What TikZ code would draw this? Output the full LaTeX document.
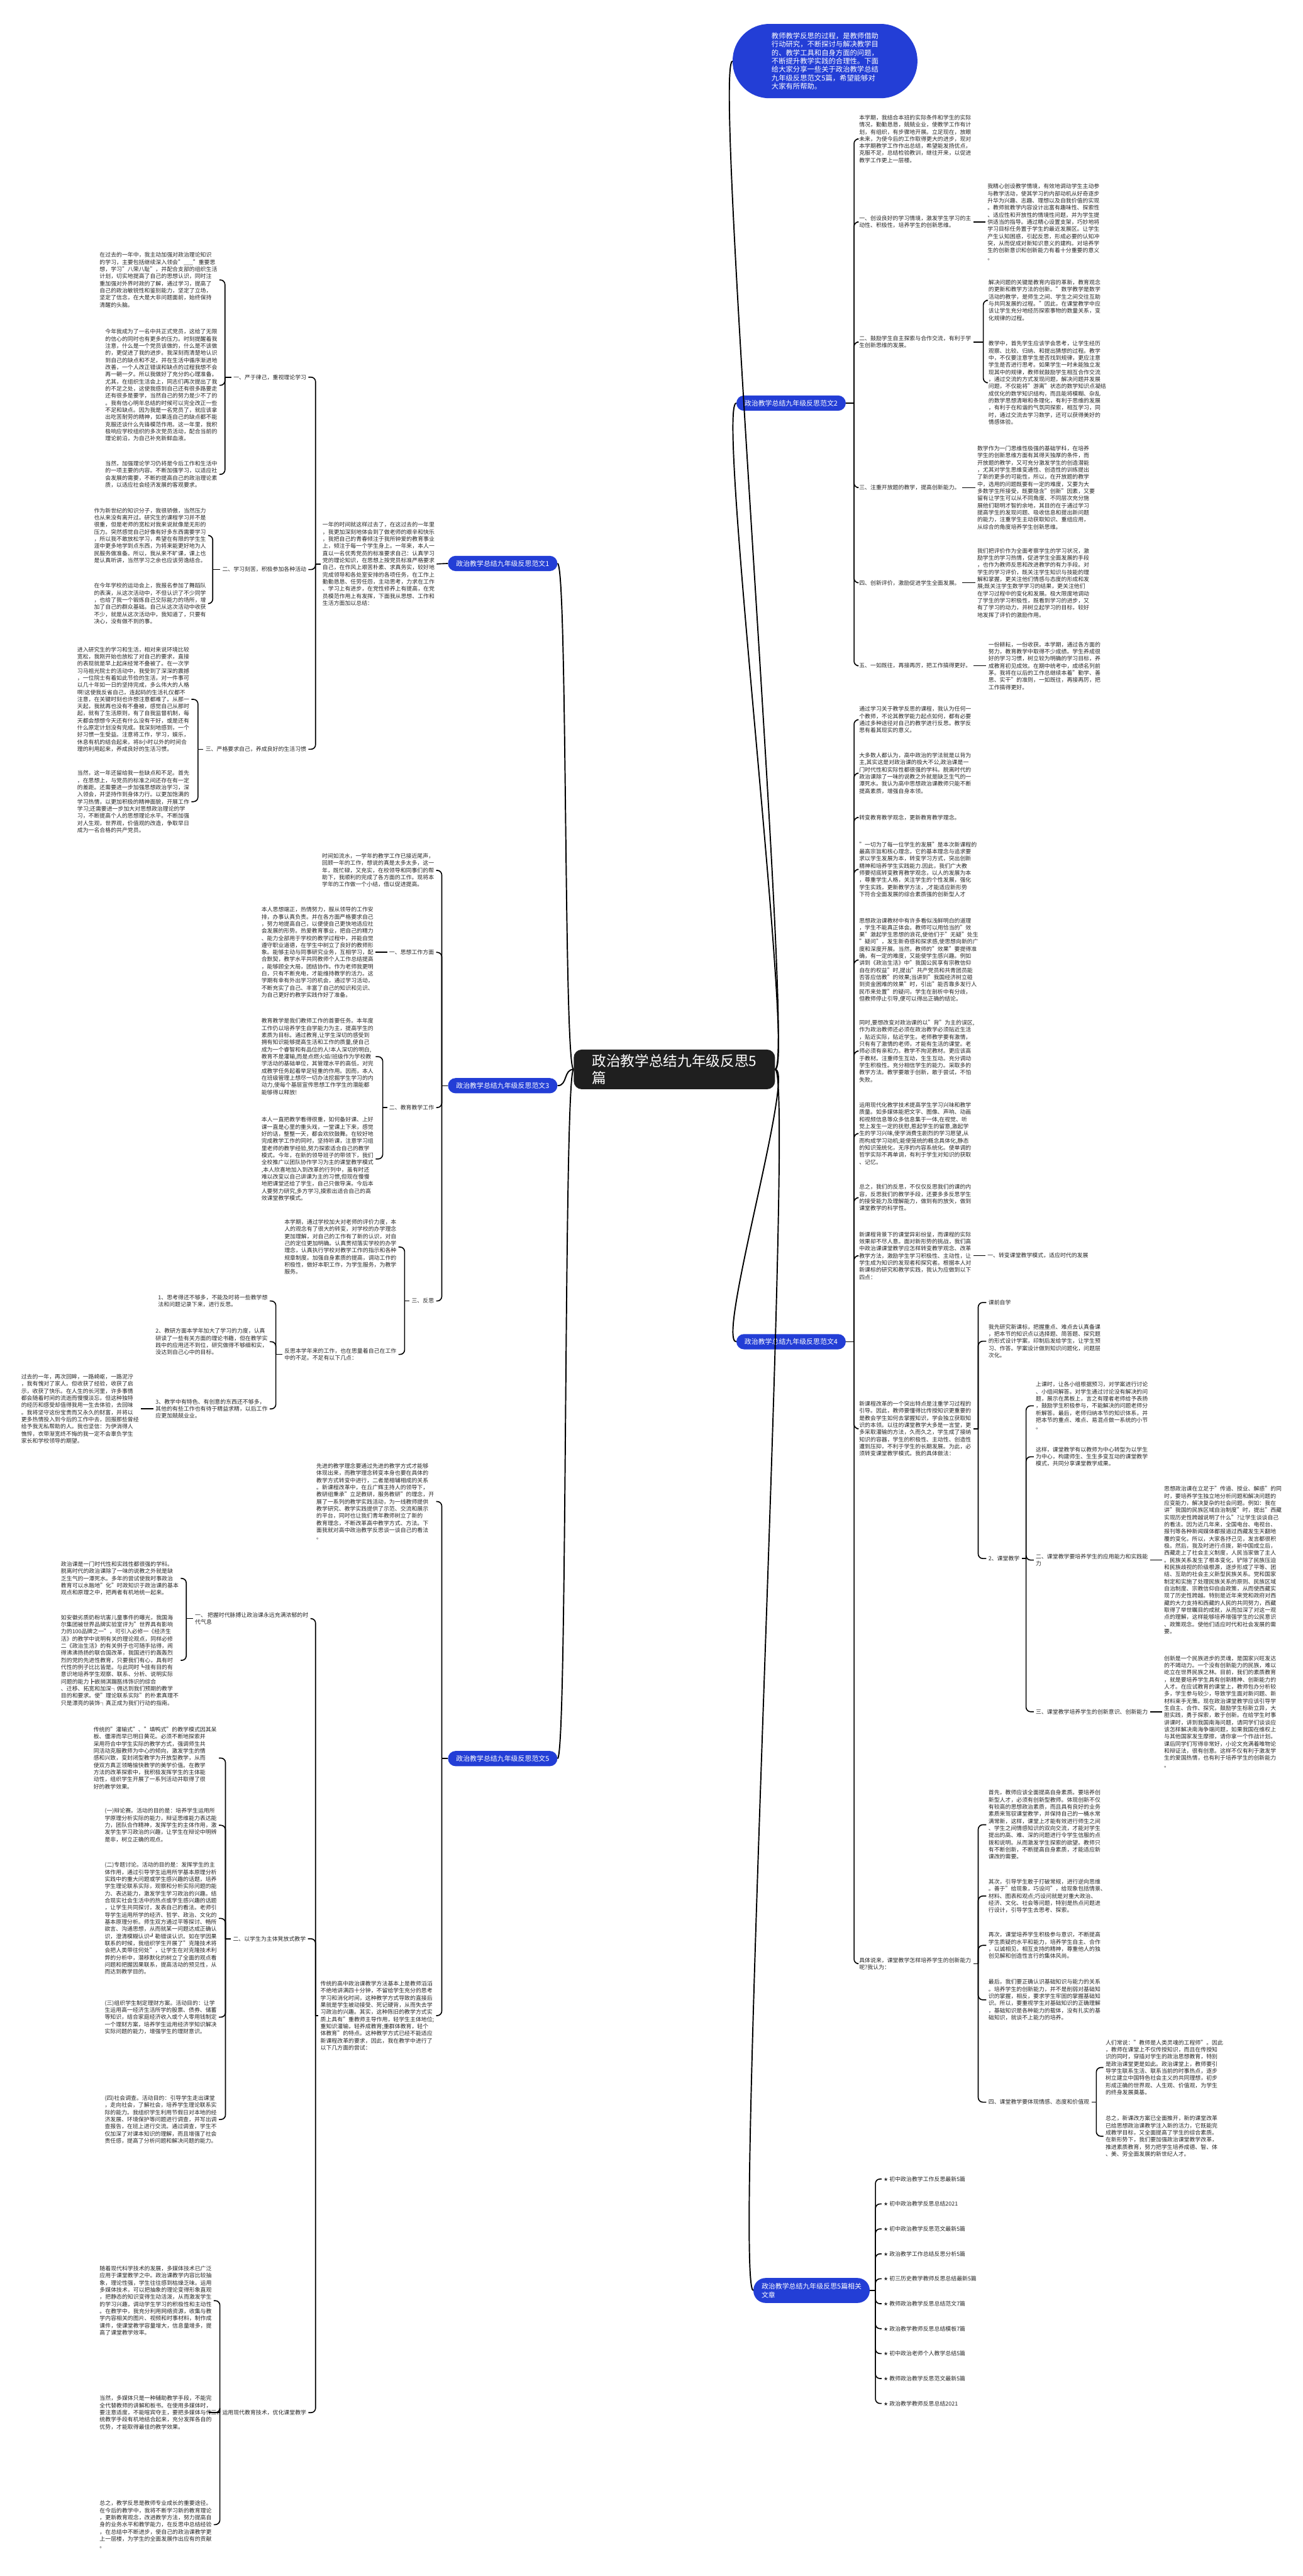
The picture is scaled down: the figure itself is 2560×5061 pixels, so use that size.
\documentclass[tikz,border=0pt]{standalone}
\usepackage{fontspec}
\setmainfont{Noto Sans CJK SC}
\newfontfamily\symf{DejaVu Sans}
\usetikzlibrary{calc}
\definecolor{bblue}{RGB}{35,62,214}
\definecolor{tx}{RGB}{38,38,38}
\tikzset{
  t/.style={font=\fontsize{11}{14}\selectfont, align=left, inner xsep=4pt, inner ysep=1pt, text=tx},
  bn/.style={fill=bblue, text=white, font=\fontsize{13.5}{17}\selectfont, rounded corners=15pt, minimum height=30pt, inner xsep=16pt, inner ysep=2pt, align=left},
  ln/.style={line width=2pt, draw=black, rounded corners=9pt},
  cv/.style={line width=2.4pt, draw=black},
}
\newcommand\RB[3]{%
  \draw[ln] let \p1=(#1.east), \p2=(#2,0) in (\p1) -- (\x2,\y1) coordinate (jn);
  \foreach \c in {#3}{\draw[ln] (jn) |- (\c.west);}}
\newcommand\LB[3]{%
  \draw[ln] let \p1=(#1.west), \p2=(#2,0) in (\p1) -- (\x2,\y1) coordinate (jn);
  \foreach \c in {#3}{\draw[ln] (jn) |- (\c.east);}}
\newcommand\RL[2]{\draw[ln] (#1.east) -- (#2.west);}
\newcommand\LL[2]{\draw[ln] (#1.west) -- (#2.east);}
\begin{document}
\begin{tikzpicture}[x=1pt,y=-1pt]
\useasboundingbox (0,0) rectangle (2560,5061);
\fill[white] (0,0) rectangle (2560,5061);

% ---------- center ----------
\node[fill=black!88, text=white, rounded corners=16pt, font=\fontsize{28}{34}\selectfont, align=left, inner xsep=36pt, inner ysep=9pt] (c) at (1325,2101) {政治教学总结九年级反思5\\篇};

% ---------- intro ----------
\node[fill=bblue, text=white, rounded corners=72pt, minimum width=363pt, minimum height=146pt, font=\fontsize{14}{16.4}\selectfont, align=left, inner sep=0pt] (intro) at (1621,120) {教师教学反思的过程，是教师借助\\行动研究，不断探讨与解决教学目\\的、教学工具和自身方面的问题，\\不断提升教学实践的合理性。下面\\给大家分享一些关于政治教学总结\\九年级反思范文5篇，希望能够对\\大家有所帮助。};

% ---------- branch 2 ----------
\node[bn,anchor=east] (b2) at (1662,792) {政治教学总结九年级反思范文2};
\node[t,anchor=west] (r20) at (1684,273) {本学期，我结合本班的实际条件和学生的实际\\情况，勤勤恳恳，兢兢业业，使教学工作有计\\划，有组织，有步骤地开展。立足现在，放眼\\未来，为使今后的工作取得更大的进步，现对\\本学期教学工作作出总结，希望能发扬优点，\\克服不足，总结检验教训，继往开来，以促进\\教学工作更上一层楼。};
\node[t,anchor=west] (r21) at (1684,436) {一、创设良好的学习情境，激发学生学习的主\\动性、积极性，培养学生的创新思维。};
\node[t,anchor=west] (r21a) at (1936,436) {我精心创设教学情境，有效地调动学生主动参\\与教学活动，使其学习的内部动机从好奇逐步\\升华为兴趣、志趣、理想以及自我价值的实现\\。教师就教学内容设计出富有趣味性、探索性\\、适应性和开放性的情境性问题，并为学生提\\供适当的指导。通过精心设置支架，巧妙地将\\学习目标任务置于学生的最近发展区。让学生\\产生认知困惑，引起反思，形成必要的认知冲\\突，从而促成对新知识意义的建构。对培养学\\生的创新意识和创新能力有着十分重要的意义\\。};
\node[t,anchor=west] (r22) at (1684,672) {二、鼓励学生自主探索与合作交流，有利于学\\生创新思维的发展。};
\node[t,anchor=west] (r22a) at (1938,590) {解决问题的关键是教育内容的革新，教育观念\\的更新和教学方法的创新。"数学教学是数学\\活动的教学，是师生之间、学生之间交往互助\\与共同发展的过程。"因此，在课堂教学中应\\该让学生充分地经历探索事物的数量关系，变\\化规律的过程。};
\node[t,anchor=west] (r22b) at (1938,752) {教学中，首先学生应该学会思考，让学生经历\\观察、比较、归纳、和提出猜想的过程。教学\\中，不仅要注意学生是否找到规律，更应注意\\学生是否进行思考。如果学生一时未能独立发\\现其中的规律，教师就鼓励学生相互合作交流\\，通过交流的方式发现问题，解决问题并发展\\问题，不仅能将"游离"状态的数学知识点凝结\\成优化的数学知识结构，而且能将模糊、杂乱\\的数学思想清晰和条理化，有利于思维的发展\\，有利于在和谐的气氛同探索，相互学习，同\\时，通过交流去学习数学，还可以获得美好的\\情感体验。};
\node[t,anchor=west] (r23) at (1684,958) {三、注重开放题的教学，提高创新能力。};
\node[t,anchor=west] (r23a) at (1916,958) {数学作为一门思维性极强的基础学科，在培养\\学生的创新思维方面有其得天独厚的条件，而\\开放题的教学，又可充分激发学生的创造潜能\\，尤其对学生思维变通性、创造性的训练提出\\了新的更多的可能性，所以，在开放题的教学\\中，选用的问题既要有一定的难度，又要为大\\多数学生所接受，既要隐含"创新"因素，又要\\留有让学生可以从不同角度、不同层次充分施\\展他们聪明才智的余地，其目的在于通过学习\\提高学生的发现问题、吸收信息和提出新问题\\的能力，注重学生主动获取知识、重组应用，\\从综合的角度培养学生创新思维。};
\node[t,anchor=west] (r24) at (1684,1145) {四、创新评价，激励促进学生全面发展。};
\node[t,anchor=west] (r24a) at (1916,1145) {我们把评价作为全面考察学生的学习状况，激\\励学生的学习热情，促进学生全面发展的手段\\，也作为教师反思和改进教学的有力手段。对\\学生的学习评价，既关注学生知识与技能的理\\解和掌握，更关注他们情感与态度的形成和发\\展;既关注学生数学学习的结果，更关注他们\\在学习过程中的变化和发展。极大限度地调动\\了学生的学习积极性，既看到学习的进步，又\\有了学习的动力，并树立起学习的目标，较好\\地发挥了评价的激励作用。};
\node[t,anchor=west] (r25) at (1684,1308) {五、一如既往，再接再厉，把工作搞得更好。};
\node[t,anchor=west] (r25a) at (1938,1308) {一份耕耘，一份收获。本学期，通过各方面的\\努力，教育教学中取得不少成绩。学生养成很\\好的学习习惯，树立较为明确的学习目标，养\\成教育初见成效。在期中统考中，成绩名列前\\茅。我将在以后的工作总继续本着"勤学、善\\思、实干"的准则，一如既往，再接再厉，把\\工作搞得更好。};
\RB{b2}{1678}{r20,r21,r22,r23,r24,r25}
\RL{r21}{r21a}\RB{r22}{1932}{r22a,r22b}\RL{r23}{r23a}\RL{r24}{r24a}\RL{r25}{r25a}

% ---------- branch 4 ----------
\node[bn,anchor=east] (b4) at (1662,2636) {政治教学总结九年级反思范文4};
\node[t,anchor=west] (r41) at (1684,1414) {通过学习关于教学反思的课程，我认为任何一\\个教师，不论其教学能力起点如何，都有必要\\通过多种途径对自己的教学进行反思。教学反\\思有着其现实的意义。};
\node[t,anchor=west] (r42) at (1684,1519) {大多数人都认为，高中政治的学法就是以背为\\主,其实这是对政治课的极大不公,政治课是一\\门时代性和实际性都很强的学科。脱离时代的\\政治课除了一味的说教之外就是缺乏生气的一\\潭死水。我认为高中思想政治课教师只能不断\\提高素质，增强自身本领。};
\node[t,anchor=west] (r43) at (1684,1606) {转变教育教学观念，更新教育教学理念。};
\node[t,anchor=west] (r44) at (1684,1708) {"一切为了每一位学生的发展"是本次新课程的\\最高宗旨和核心理念，它的基本理念与追求要\\求以学生发展为本，转变学习方式，突出创新\\精神和培养学生实践能力.因此，我们广大教\\师要彻底转变教育教学观念，以人的发展为本\\，尊重学生人格，关注学生的个性发展，强化\\学生实践，更新教学方法，,才能适应新形势\\下符合全面发展的综合素质强的创新型人才};
\node[t,anchor=west] (r45) at (1684,1886) {思想政治课教材中有许多看似浅鲜明白的道理\\，学生不能真正体会。教师可以用恰当的"效\\果"激起学生思想的浪花,使他们于"无疑"处生\\"疑问"，发生新奇感和探求感,使思想向新的广\\度和深度开展。当然，教师的"效果"要提得准\\确，有一定的难度，又能使学生感兴趣。例如\\讲到《政治生活》中"我国公民享有宗教信仰\\自在的权益"时,提出"共产党员和共青团员能\\否答应信教"的效果;当讲到"我国经济树立碰\\到资金困难的效果"时，引出"能否靠多发行人\\民币来处置"的疑问，学生在剖析中有分歧，\\但教师停止引导,便可以得出正确的结论。};
\node[t,anchor=west] (r46) at (1684,2065) {同时,要想改变对政治课的以"背"为主的误区,\\作为政治教师还必须在政治教学必须贴近生活\\，贴近实际，贴近学生。老师教学要有激情，\\只有有了激情的老师，才能有生活的课堂。老\\师必须有亲和力。教学不拘泥教材。更应该高\\于教材。注重师生互动，生生互动。充分调动\\学生积极性。充分相信学生的能力。采取多的\\教学方法。教学要敢于创新，敢于尝试，不怕\\失败。};
\node[t,anchor=west] (r47) at (1684,2227) {运用现代化教学技术提高学生学习兴味和教学\\质量。如多媒体能把文字、图像、声响、动画\\和视频信息等众多信息集于一体,在视觉、听\\觉上发生一定的抚慰,惹起学生的留意,激起学\\生的学习兴味,使学消费生剧烈的学习愿望,从\\而构成学习动机;能使笼统的概念具体化,静态\\的知识笼统化，无序的内容系统化。使单调的\\哲学实际不再单调，有利于学生对知识的获取\\、记忆。};
\node[t,anchor=west] (r48) at (1684,2353) {总之，我们的反思，不仅仅反思我们的课的内\\容，反思我们的教学手段，还要多多反思学生\\的接受能力及理解能力，做到有的放矢，做到\\课堂教学的科学性。};
\node[t,anchor=west] (r49) at (1684,2467) {新课程背景下的课堂异彩纷呈，而课程的实际\\效果却不尽人意。面对新形势的挑战，我们高\\中政治课课堂教学应怎样转变教学观念、改革\\教学方法，激励学生学习积极性、主动性，让\\学生成为知识的发现者和探究者。根据本人对\\新课标的研究和教学实践，我认为应做到以下\\四点：};
\node[t,anchor=west] (r49a) at (1936,2467) {一、转变课堂教学模式，适应时代的发展};
\node[t,anchor=west] (r410) at (1684,2807) {新课程改革的一个突出特点是注重学习过程的\\引导。因此，教师要懂得比传授知识更重要的\\是教会学生如何去掌握知识，学会独立获取知\\识的本领。以往的课堂教学大多是一言堂，更\\多采取灌输的方法，久而久之，学生成了接纳\\知识的容器，学生的积极性、主动性、创造性\\遭到压抑，不利于学生的长期发展。为此，必\\须转变课堂教学模式。我的具体做法：};
\node[t,anchor=west] (r410a) at (1938,2559) {课前自学};
\node[t,anchor=west] (r410b) at (1938,2635) {我先研究新课标，把握重点、难点去认真备课\\，把本节的知识点以选择题、简答题、探究题\\的形式设计学案，印制后发给学生，让学生预\\习、作答。学案设计做到知识问题化，问题层\\次化。};
\node[t,anchor=west] (r410c) at (1938,3062) {2、课堂教学};
\node[t,anchor=west] (r410c1) at (2031,2762) {上课时，让各小组根据预习，对学案进行讨论\\、小组间解答。对学生通过讨论没有解决的问\\题，展示在黑板上，言之有理者老师给予表扬\\，鼓励学生积极参与，不能解决的问题老师分\\析解答。最后，老师归纳本节的知识体系，并\\把本节的重点、难点、易混点做一系统的小节\\。};
\node[t,anchor=west] (r410c2) at (2031,2862) {这样，课堂教学有以教师为中心转型为以学生\\为中心，构建师生、生生多变互动的课堂教学\\模式，共同分享课堂教学成果。};
\node[t,anchor=west] (r410c3) at (2031,3065) {二、课堂教学要培养学生的应用能力和实践能\\力};
\node[t,anchor=west] (r410c3a) at (2283,3065) {思想政治课在立足于"传道、授业、解惑"的同\\时，要培养学生独立地分析问题和解决问题的\\应变能力，解决复杂的社会问题。例如：我在\\讲"我国的民族区域自治制度"时，提出"西藏\\实现历史性跨越说明了什么"?让学生谈谈自己\\的看法。因为近几年来，全国电台、电视台、\\报刊等各种新闻媒体都报道过西藏发生天翻地\\覆的变化，所以，大家各抒己见，发言都很积\\极。然后，我及时进行点拨，新中国成立后，\\西藏走上了社会主义制度，人民当家做了主人\\。民族关系发生了根本变化，铲除了民族压迫\\和民族歧视的阶级根源，逐步形成了平等、团\\结、互助的社会主义新型民族关系。党和国家\\制定和实施了处理民族关系的原则、民族区域\\自治制度、宗教信仰自由政策，从而使西藏实\\现了历史性跨越。特别是近年来党和政府对西\\藏的大力支持和西藏的人民的共同努力，西藏\\取得了举世瞩目的成就，从而加深了对这一观\\点的理解，这样能够培养增强学生的公民意识\\、政策观念。使他们适应时代和社会发展的需\\要。};
\node[t,anchor=west] (r410c4) at (2031,3363) {三、课堂教学培养学生的创新意识、创新能力};
\node[t,anchor=west] (r410c4a) at (2283,3363) {创新是一个民族进步的灵魂，是国家兴旺发达\\的不竭动力。一个没有创新能力的民族，难以\\屹立在世界民族之林。目前，我们的素质教育\\，就是要培养学生具有创新精神、创新能力的\\人才。在应试教育的课堂上，教师包办分析较\\多，学生参与较少，导致学生面对新问题、新\\材料束手无策。现在政治课堂教学应该引导学\\生自主、合作、探究，鼓励学生标新立异，大\\胆实践，勇于探索，敢于创新。在给学生时事\\讲课时，讲到我国南海问题，请同学们谈谈应\\该怎样解决南海争端问题，如果我国在维权上\\与其他国家发生摩擦，请你拿一个作战计划。\\课后同学们写得非常好，小论文充满着唯物论\\和辩证法，很有创意。这样不仅有利于激发学\\生的爱国热情，也有利于培养学生的创新能力\\。};
\node[t,anchor=west] (r411) at (1684,3858) {具体说来，课堂教学怎样培养学生的创新能力\\呢?我认为：};
\node[t,anchor=west] (r411a) at (1938,3585) {首先，教师应该全面提高自身素质。要培养创\\新型人才，必须有创新型教师。体现创新不仅\\有较高的思想政治素质，而且具有良好的业务\\素质来驾驭课堂教学，并保持自己的一桶水常\\满常新，这样，课堂上才能有效进行师生之间\\、学生之间情感知识的双向交流，才能对学生\\提出的高、难、深的问题进行令学生信服的点\\拨和说明。从而激发学生探索的欲望。教师只\\有不断创新，不断提高自身素质，才能适应新\\课改的需要。};
\node[t,anchor=west] (r411b) at (1938,3725) {其次，引导学生敢于打破常规，进行逆向思维\\。善于"给现象，巧设问"，给现象包括情景、\\材料、图表和观点;巧设问就是对重大政治、\\经济、文化、社会等问题，特别是热点问题进\\行设计，引导学生去思考、探索。};
\node[t,anchor=west] (r411c) at (1938,3822) {再次，课堂培养学生积极参与意识，不断提高\\学生质疑的水平和能力，培养学生自主、合作\\，以诚相见，相互支持的精神，尊重他人的独\\创见解和创造性言行的集体风尚。};
\node[t,anchor=west] (r411d) at (1938,3929) {最后，我们要正确认识基础知识与能力的关系\\。培养学生的创新能力，并不是削弱对基础知\\识的掌握，相反，要求学生牢固的掌握基础知\\识。所以，要重视学生对基础知识的正确理解\\，基础知识是各种能力的载体，没有扎实的基\\础知识，就谈不上能力的培养。};
\node[t,anchor=west] (r411e) at (1938,4130) {四、课堂教学要体现情感、态度和价值观};
\node[t,anchor=west] (r411e1) at (2168,4062) {人们常说："教师是人类灵魂的工程师"。因此\\，教师在课堂上不仅传授知识，而且在传授知\\识的同时，穿插对学生的政治思想教育，特别\\是政治课堂更是如此。政治课堂上，教师要引\\导学生联系生活、联系当前的时事热点，逐步\\树立建立中国特色社会主义的共同理想，初步\\形成正确的世界观、人生观、价值观，为学生\\的终身发展奠基。};
\node[t,anchor=west] (r411e2) at (2168,4197) {总之，新课改方案已全面推开，新的课堂改革\\已给思想政治课教学注入新的活力，它既能完\\成教学目标，又全面提高了学生的综合素质。\\在新形势下，我们要加强政治课堂教学改革，\\推进素质教育，努力把学生培养成德、智、体\\、美、劳全面发展的新世纪人才。};
\RB{b4}{1678}{r41,r42,r43,r44,r45,r46,r47,r48,r49,r410,r411}
\RL{r49}{r49a}
\RB{r410}{1922}{r410a,r410b,r410c}
\RB{r410c}{2016}{r410c1,r410c2,r410c3,r410c4}
\RL{r410c3}{r410c3a}\RL{r410c4}{r410c4a}
\RB{r411}{1922}{r411a,r411b,r411c,r411d,r411e}
\RB{r411e}{2154}{r411e1,r411e2}

% ---------- branch 6 ----------
\node[bn,anchor=east, minimum height=49pt, rounded corners=24pt] (b6) at (1709,4500) {政治教学总结九年级反思5篇相关\\文章};
\foreach \k/\s in {0/初中政治教学工作反思最新5篇,1/初中政治教学反思总结2021,2/初中政治教学反思范文最新5篇,3/政治教学工作总结反思分析5篇,4/初三历史教学教师反思总结最新5篇,5/教师政治教学反思总结范文7篇,6/政治教学教师反思总结模板7篇,7/初中政治老师个人教学总结5篇,8/教师政治教学反思范文最新5篇,9/政治教学教师反思总结2021}{
  \node[t,anchor=west] (s\k) at (1732,4281+49*\k) {{\symf\fontsize{10}{14}\selectfont ★} \s};
}
\RB{b6}{1720}{s0,s1,s2,s3,s4,s5,s6,s7,s8,s9}

% ---------- branch 1 ----------
\node[bn,anchor=west] (b1) at (880,1107) {政治教学总结九年级反思范文1};
\node[t,anchor=east] (l10) at (858,1108) {一年的时间就这样过去了，在这过去的一年里\\，我更加深刻地体会到了做老师的艰辛和快乐\\，我把自己的青春倾注于我所钟爱的教育事业\\上，倾注于每一个学生身上。一年来，本人一\\直以一名优秀党员的标准要求自己：认真学习\\党的理论知识，在思想上按党员标准严格要求\\自己，在作风上艰苦朴素、求真务实，较好地\\完成领导和各处室安排的各项任务，在工作上\\勤勤恳恳、任劳任怨，主动思考，力求在工作\\、学习上有进步，在党性修养上有提高，在党\\员模范作用上有发挥，下面我从思想、工作和\\生活方面加以总结：};
\LL{b1}{l10}
\node[t,anchor=east] (l11) at (606,741) {一、严于律己，重视理论学习};
\node[t,anchor=east] (l12) at (606,1119) {二、学习刻苦，积极参加各种活动};
\node[t,anchor=east] (l13) at (606,1472) {三、严格要求自己，养成良好的生活习惯};
\LB{l10}{620}{l11,l12,l13}
\node[t,anchor=east] (l11a) at (431,550) {在过去的一年中，我主动加强对政治理论知识\\的学习，主要包括继续深入领会"\_\_\_"重要思\\想，学习"八荣八耻"，并配合支部的组织生活\\计划，切实地提高了自己的思想认识，同时注\\重加强对外界时政的了解，通过学习，提高了\\自己的政治敏锐性和鉴别能力，坚定了立场，\\坚定了信念，在大是大非问题面前，始终保持\\清醒的头脑。};
\node[t,anchor=east] (l11b) at (431,757) {今年我成为了一名中共正式党员，这给了无限\\的信心的同时也有更多的压力。时刻提醒着我\\注意，什么是一个党员该做的，什么是不该做\\的，更促进了我的进步。我深刻而清楚地认识\\到自己的缺点和不足，并在生活中循序渐进地\\改善，一个人改正错误和缺点的过程我想不会\\再一朝一夕。所以我做好了充分的心理准备。\\尤其，在组织生活会上，同志们再次提出了我\\的不足之处，这使我感到自己还有很多路要走\\还有很多是要学，当然自己的努力是少不了的\\。我有信心明年总结的时候可以完全改正一些\\不足和缺点。因为我是一名党员了，就应该拿\\出吃苦耐劳的精神，如果连自己的缺点都不能\\克服还谈什么先锋模范作用。这一年里，我积\\极响应学校组织的多次党员活动，配合当前的\\理论前沿，为自己补充新鲜血液。};
\node[t,anchor=east] (l11c) at (431,932) {当然，加强理论学习仍将是今后工作和生活中\\的一项主要的内容。不断加强学习，以适应社\\会发展的需要，不断的提高自己的政治理论素\\质，以适应社会经济发展的客观要求。};
\LB{l11}{442}{l11a,l11b,l11c}
\node[t,anchor=east] (l12a) at (409,1052) {作为新世纪的知识分子，我很骄傲，当然压力\\也从来没有离开过。研究生的课程学习并不是\\很重，但是老师的宽松对我来说就像是无形的\\压力。突然感觉自己好像有好多东西需要学习\\，所以我不敢放松学习，希望在有限的学生生\\涯中更多地学到点东西，为将来能更好地为人\\民服务做准备。所以，我从来不旷课，课上也\\是认真听讲，当然学习之余也应该劳逸结合。};
\node[t,anchor=east] (l12b) at (409,1186) {在今年学校的运动会上，我报名参加了舞蹈队\\的表演，从这次活动中，不但认识了不少同学\\，也给了我一个锻炼自己交际能力的场所，增\\加了自己的群众基础。自己从这次活动中收获\\不少，就是从这次活动中，我知道了，只要有\\决心，没有做不到的事。};
\LB{l12}{418}{l12a,l12b}
\node[t,anchor=east] (l13a) at (376,1374) {进入研究生的学习和生活，相对来说环境比较\\宽松，我刚开始也放松了对自己的要求，直接\\的表现就是早上起床经常不叠被了。在一次学\\习马祖光院士的活动中，我受到了深深的震撼\\，一位院士有着如此节俭的生活，对一件事可\\以几十年如一日的坚持完成，多么伟大的人格\\啊!这使我反省自己，连起码的生活礼仪都不\\注意，在关键时刻也许想注意都难了。从那一\\天起，我就再也没有不叠被，感觉自己从那时\\起，就有了生活原则，有了自我监督机制，每\\天都会想想今天还有什么没有干好，或是还有\\什么原定计划没有完成。我深刻地感到，一个\\好习惯一生受益。注意将工作，学习，娱乐，\\休息有机的结合起来，将8小时以外的时间合\\理的利用起来，养成良好的生活习惯。};
\node[t,anchor=east] (l13b) at (376,1575) {当然，这一年还留给我一些缺点和不足。首先\\，在思想上，与党员的标准之间还存在有一定\\的差距。还需要进一步加强思想政治学习，深\\入领会，并坚持作到身体力行。以更加饱满的\\学习热情，以更加积极的精神面貌，开展工作\\学习;还需要进一步加大对思想政治理论的学\\习，不断提高个人的思想理论水平。不断加强\\对人生观，世界观，价值观的改造，争取早日\\成为一名合格的共产党员。};
\LB{l13}{389}{l13a,l13b}

% ---------- branch 3 ----------
\node[bn,anchor=west] (b3) at (880,2133) {政治教学总结九年级反思范文3};
\node[t,anchor=east] (l30) at (857,1710) {时间如流水，一学年的教学工作已接近尾声，\\回顾一年的工作，想说的真是太多太多，这一\\年，既忙碌，又充实，在校领导和同事们的帮\\助下，我顺利的完成了各方面的工作。现将本\\学年的工作做一个小结，借以促进提高。};
\node[t,anchor=east] (l31) at (857,1871) {一、思想工作方面};
\node[t,anchor=east] (l32) at (857,2176) {二、教育教学工作};
\node[t,anchor=east] (l33) at (857,2556) {三、反思};
\LB{b3}{868}{l30,l31,l32,l33}
\node[t,anchor=east] (l31a) at (738,1871) {本人思想端正，热情努力，服从领导的工作安\\排，办事认真负责。并在各方面严格要求自己\\，努力地提高自己，以便使自己更快地适应社\\会发展的形势。热爱教育事业，把自己的精力\\、能力全部用于学校的教学过程中，并能自觉\\遵守职业道德，在学生中树立了良好的教师形\\象。能够主动与同事研究业务，互相学习，配\\合默契，教学水平共同教师个人工作总结提高\\，能够顾全大局，团结协作。作为老师我更明\\白，只有不断充电，才能维持教学的活力。这\\学期有幸有外出学习的机会，通过学习活动，\\不断充实了自己、丰富了自己的知识和见识、\\为自己更好的教学实践作好了准备。};
\LL{l31}{l31a}
\node[t,anchor=east] (l32a) at (738,2076) {教育教学是我们教师工作的首要任务。本年度\\工作仍以培养学生自学能力为主，提高学生的\\素质为目标。通过教育,让学生深切的感受到\\拥有知识能够提高生活和工作的质量,使自己\\成为一个睿智和有品位的人!本人深切的明白,\\教育不是灌输,而是点燃火焰!班级作为学校教\\学活动的基础单位，其管理水平的高低，对完\\成教学任务起着举足轻重的作用。因而，本人\\在班级管理上想尽一切办法挖掘学生学习的内\\动力,使每个基层宣传思想工作学生的潜能都\\能够得以释放!};
\node[t,anchor=east] (l32b) at (738,2277) {本人一直把教学看得很重，如何备好课、上好\\课一直是心里的重头戏，一堂课上下来，感觉\\好的话，整整一天，都会欢欣鼓舞。在较好地\\完成教学工作的同时，坚持听课，注意学习组\\里老师的教学经验,努力探索适合自己的教学\\模式。今年，在新的领导班子的带领下，我们\\全校推广以团队协作学习为主的课堂教学模式\\,本人欣喜地加入到改革的行列中，虽有时还\\难以改变以自己讲课为主的习惯,但现在慢慢\\地把课堂还给了学生，自己只做导演。今后本\\人要努力研究,多方学习,摸索出适合自己的高\\效课堂教学模式。};
\LB{l32}{752}{l32a,l32b}
\node[t,anchor=east] (l33a) at (783,2450) {本学期，通过学校加大对老师的评价力度，本\\人的观念有了很大的转变，对学校的办学理念\\更加理解，对自己的工作有了新的认识，对自\\己的定位更加明确。认真贯彻落实学校的办学\\理念，认真执行学校对教学工作的指示和各种\\规章制度。加强自身素质的提高，调动工作的\\积极性，做好本职工作，为学生服务，为教学\\服务。};
\node[t,anchor=east] (l33b) at (783,2661) {反思本学年来的工作，也在思量着自己在工作\\中的不足。不足有以下几点：};
\LB{l33}{795}{l33a,l33b}
\node[t,anchor=east] (l33b1) at (530,2556) {1、思考得还不够多，不能及时将一些教学想\\法和问题记录下来，进行反思。};
\node[t,anchor=east] (l33b2) at (530,2636) {2、教研方面本学年加大了学习的力度，认真\\研读了一些有关方面的理论书籍，但在教学实\\践中的应用还不到位，研究做得不够细和实，\\没达到自己心中的目标。};
\node[t,anchor=east] (l33b3) at (530,2768) {3、教学中有特色、有创意的东西还不够多，\\其他的有些工作也有待于精益求精，以后工作\\应更加兢兢业业。};
\LB{l33b}{542}{l33b1,l33b2,l33b3}
\node[t,anchor=east] (l33b3a) at (277,2768) {过去的一年，再次回眸，一路崎岖，一路泥泞\\，我有愧对了家人。但收获了经验，收获了启\\示，收获了快乐。在人生的长河里，许多事情\\都会随着时间的流逝而慢慢淡忘，但这种独特\\的经历和感受却值得我用一生去体验，去回味\\。我将坚守这份宝贵而又永久的财富，并将以\\更多热情投入到今后的工作中去，回报那些曾经\\给予我无私帮助的人。我也坚信：为伊消得人\\憔悴，衣带渐宽终不悔的我一定不会辜负学生\\家长和学校领导的期望。};
\LL{l33b3}{l33b3a}

% ---------- branch 5 ----------
\node[bn,anchor=west] (b5) at (880,3455) {政治教学总结九年级反思范文5};
\node[t,anchor=east] (l50) at (857,2950) {先进的教学理念要通过先进的教学方式才能够\\体现出来，而教学理念转变本身也要在具体的\\教学方式转变中进行，二者是相辅相成的关系\\。新课程改革中，在丘广辉主持人的领导下，\\教研组秉承"立足教研，服务教研"的理念，开\\展了一系列的教学实践活动，为一线教师提供\\教学研究、教学实践提供了示范、交流和展示\\的平台，同时也让我们青年教师树立了新的\\教育理念，不断改革高中教学方式、方法。下\\面我就对高中政治教学反思谈一谈自己的看法\\。};
\node[t,anchor=east] (l5x) at (857,3960) {传统的高中政治课教学方法基本上是教师滔滔\\不绝地讲满四十分钟，不留给学生充分的思考\\学习和消化时间，这种教学方式导致的直接后\\果就是学生被动接受、死记硬背，从而失去学\\习政治的兴趣。其实，这种陈旧的教学方式实\\质上具有"重教师主导作用，轻学生主体地位;\\重知识灌输，轻养成教育;重群体教育，轻个\\体教育"的特点。这种教学方式已经不能适应\\新课程改革的要求，因此，我在教学中进行了\\以下几方面的尝试：};
\LB{b5}{868}{l50,l5x}
\node[t,anchor=east] (l51) at (610,3180) {一、 把握时代脉搏让政治课永远充满浓郁的时\\代气息};
\node[t,anchor=east] (l52) at (605,3809) {二、以学生为主体凳放式教学};
\node[t,anchor=east] (l53) at (606,4740) {三、运用现代教育技术，优化课堂教学};
\LB{l5x}{620}{l51,l52,l53}
\node[t,anchor=east] (l51a) at (355,3101) {政治课是一门时代性和实践性都很强的学科。\\脱离时代的政治课除了一味的说教之外就是缺\\乏生气的一潭死水。多年的尝试使我时事政治\\教育可以水融地"化"时政知识于政治课的基本\\观点和原理之中，把两者有机地统一起来。};
\node[t,anchor=east] (l51b) at (355,3262) {如安徽劣质奶粉坑害儿童事件的曝光，我国海\\尔集团被世界品牌实验室评为"世界具有影响\\力的100品牌之一"，可引入必修一《经济生\\活》的教学中说明有关的理论观点，同样必修\\二《政治生活》的有关例子也可随手拈得，闹\\得沸沸扬扬的联合国改革，我国进行的轰轰烈\\烈的党的先进性教育，只要我们有心，具有时\\代性的例子比比皆是。与此同时┗挂有目的有\\意识地培养学生观察、联系、分析、说明实际\\问题的能力┣嵌捎淇踹匦纬饰识的综合\\、迁移、拓宽和加深┐佣达到我们预期的教学\\目的和要求。使"理论联系实际"的朴素真理不\\只是漂亮的装饰┐真正成为我们行动的指南。};
\LB{l51}{366}{l51a,l51b}
\node[t,anchor=east] (l52a) at (430,3454) {传统的"灌输式"、"填鸭式"的教学模式因其呆\\板、僵滞而早已明日黄花。必须不断地探索并\\采用符合中学生实际的教学方式，强调师生共\\同活动克服教师为中心的倾向，激发学生的情\\感和兴致，变封闭型教学为开放型教学，从而\\使双方真正领略愉快教学的美学价值。在教学\\方法的改革探索中，我积极发挥学生的主体能\\动性，组织学生开展了一系列活动并取得了很\\好的教学效果。};
\node[t,anchor=east] (l52b) at (430,3586) {(一)辩论赛。活动的目的是：培养学生运用所\\学原理分析实际的能力，辩证思维能力表达能\\力，团队合作精神，发挥学生的主体作用，激\\发学生学习政治的兴趣，让学生在辩论中明辨\\是非，树立正确的观点。};
\node[t,anchor=east] (l52c) at (430,3769) {(二)专题讨论。活动的目的是：发挥学生的主\\体作用，通过引导学生运用所学基本原理分析\\实践中的重大问题或学生感兴趣的话题，培养\\学生理论联系实际，观察和分析实际问题的能\\力、表达能力，激发学生学习政治的兴趣。结\\合现实社会生活中的热点或学生感兴趣的话题\\，让学生共同探讨，发表自己的看法。老师引\\导学生运用所学的经济、哲学、政治、文化的\\基本原理分析。师生双方通过平等探讨、畅所\\欲言、沟通思想，从而就某一问题达成正确认\\识，澄清模糊认识┛勒错误认识。如在学因果\\联系的时候，我组织学生开展了"克隆技术将\\会把人类带往何处"，让学生在对克隆技术利\\弊的分析中，潜移默化的树立了全面的观点看\\问题和把握因果联系，提高活动的预见性，从\\而达到教学目的。};
\node[t,anchor=east] (l52d) at (430,3963) {(三)组织学生制定理财方案。活动目的：让学\\生运用高一经济生活所学的股票、债券、储蓄\\等知识，结合家庭经济收入或个人零用钱制定\\一个理财方案，培养学生运用经济学知识解决\\实际问题的能力，增强学生的理财意识。};
\node[t,anchor=east] (l52e) at (430,4164) {(四)社会调查。活动目的：引导学生走出课堂\\，走向社会，了解社会，培养学生理论联系实\\际的能力。我组织学生利用节假日对本地的经\\济发展、环境保护等问题进行调查，并写出调\\查报告，在班上进行交流。通过调查，学生不\\仅加深了对课本知识的理解，而且增强了社会\\责任感，提高了分析问题和解决问题的能力。};
\LB{l52}{443}{l52a,l52b,l52c,l52d,l52e}
\node[t,anchor=east] (l53a) at (420,4520) {随着现代科学技术的发展，多媒体技术已广泛\\应用于课堂教学之中。政治课教学内容比较抽\\象，理论性强，学生往往感到枯燥乏味。运用\\多媒体技术，可以把抽象的理论变得形象直观\\，把静态的知识变得生动活泼，从而激发学生\\的学习兴趣，调动学生学习的积极性和主动性\\。在教学中，我充分利用网络资源，收集与教\\学内容相关的图片、视频和时事材料，制作成\\课件，使课堂教学容量增大，信息量增多，提\\高了课堂教学效率。};
\node[t,anchor=east] (l53b) at (420,4740) {当然，多媒体只是一种辅助教学手段，不能完\\全代替教师的讲解和板书。在使用多媒体时，\\要注意适度，不能喧宾夺主，要把多媒体与传\\统教学手段有机地结合起来，充分发挥各自的\\优势，才能取得最佳的教学效果。};
\node[t,anchor=east] (l53c) at (420,4960) {总之，教学反思是教师专业成长的重要途径。\\在今后的教学中，我将不断学习新的教育理论\\，更新教育观念，改进教学方法，努力提高自\\身的业务水平和教学能力，在反思中总结经验\\，在总结中不断进步，使自己的政治课教学更\\上一层楼，为学生的全面发展作出应有的贡献\\。};
\LB{l53}{432}{l53a,l53b,l53c}

% ---------- center curves ----------
\draw[cv] (c.east) .. controls +(40,0) and +(-40,0) .. (intro.west);
\draw[cv] (c.east) .. controls +(40,0) and +(-40,0) .. (b2.west);
\draw[cv] (c.east) .. controls +(40,0) and +(-40,0) .. (b4.west);
\draw[cv] (c.east) .. controls +(40,0) and +(-40,0) .. (b6.west);
\draw[cv] (c.west) .. controls +(-20,0) and +(20,0) .. (b1.east);
\draw[cv] (c.west) .. controls +(-20,0) and +(20,0) .. (b3.east);
\draw[cv] (c.west) .. controls +(-20,0) and +(20,0) .. (b5.east);
\end{tikzpicture}
\end{document}
